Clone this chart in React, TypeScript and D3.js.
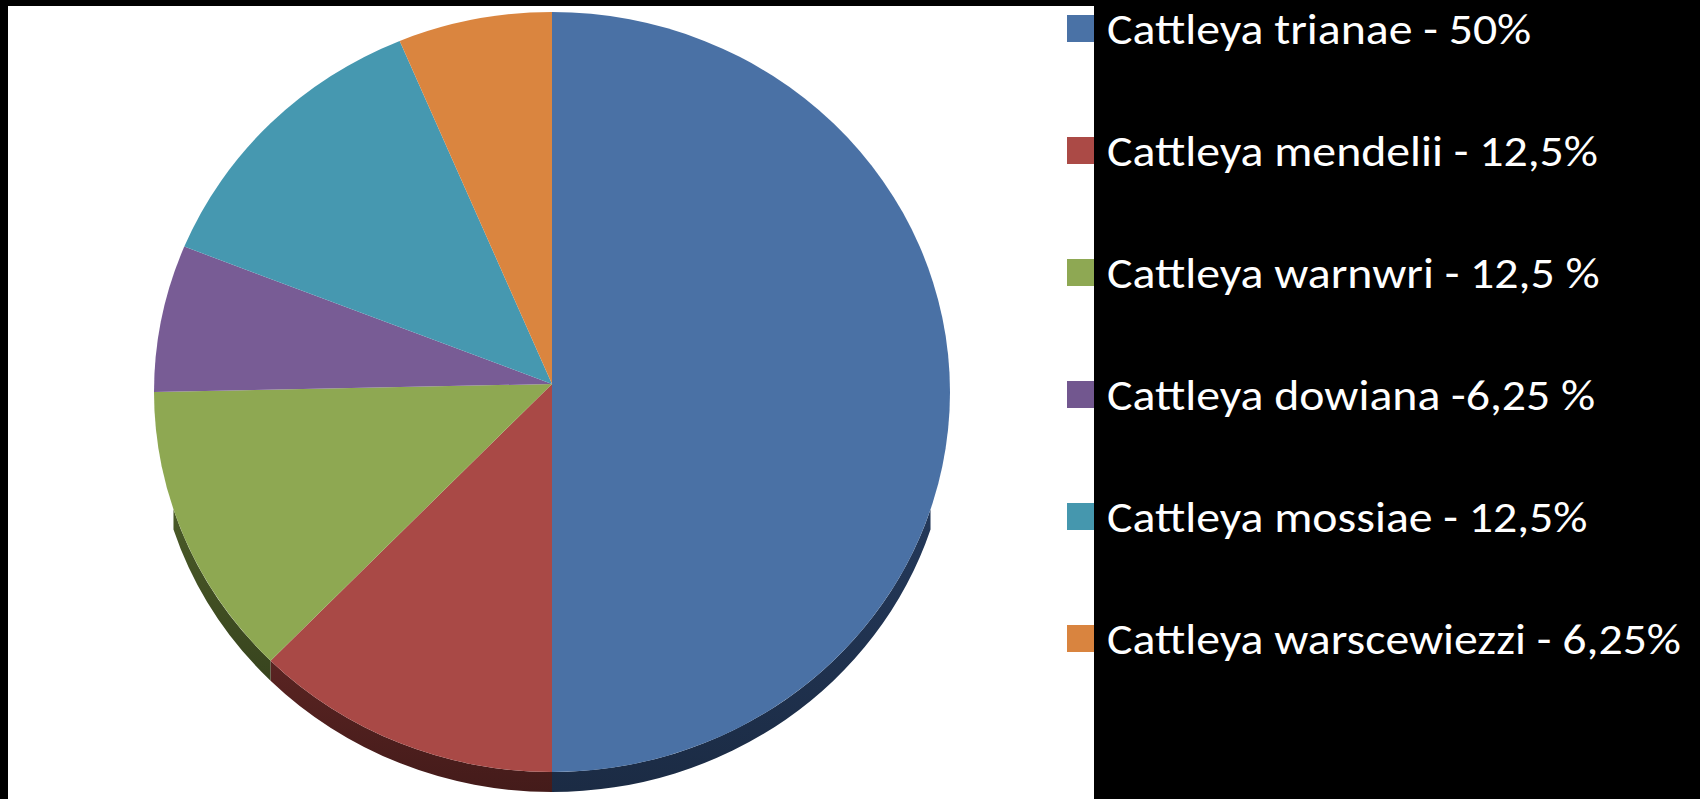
import React, { useEffect, useRef, useState } from "react";
import * as d3 from "d3";

const species = [
  "Cattleya trianae",
  "Cattleya mendelii",
  "Cattleya warnwri",
  "Cattleya dowiana",
  "Cattleya mossiae",
  "Cattleya warscewiezzi",
];
const values = [50, 12.5, 12.5, 6.25, 12.5, 6.25];
const legendLabels = [
  "Cattleya trianae - 50%",
  "Cattleya mendelii - 12,5%",
  "Cattleya warnwri - 12,5 %",
  "Cattleya dowiana -6,25 %",
  "Cattleya mossiae - 12,5%",
  "Cattleya warscewiezzi - 6,25%",
];
const faceColors = ["#4a71a5", "#a94946", "#8ea852", "#785c95", "#4698b0", "#da853f"];
const legendColors = ["#4a72a6", "#ab4a46", "#8ea853", "#72578f", "#4597ae", "#d9843f"];
const sideColors = ["#24395a", "#5a2422", "#4a5a28", "#3c2d4c", "#22505c", "#70421e"];

const W = 1700;
const H = 799;

export default function App() {
  const textRefs = useRef<(SVGTextElement | null)[]>([]);
  const [lens, setLens] = useState<number[] | null>(null);

  useEffect(() => {
    document.body.style.margin = "0";
    document.body.style.background = "#000";
    document.body.style.overflow = "hidden";
    const measured = textRefs.current.map((t) => (t ? t.getComputedTextLength() : 0));
    const longest = measured[5] || 1;
    const k = 574 / longest;
    setLens(measured.map((m) => m * k));
  }, []);

  const cx = 552;
  const cy = 392;
  const rx = 398;
  const ry = 380;
  const apex = { x: 552, y: 384 };
  const depth = 20;

  const pt = (a: number, dy = 0) => [cx + rx * Math.sin(a), cy - ry * Math.cos(a) + dy];

  const arcs = d3.pie<number>().sort(null).value((d) => d)(values);

  const facePath = (a0: number, a1: number) => {
    const p0 = pt(a0);
    const p1 = pt(a1);
    const large = a1 - a0 > Math.PI ? 1 : 0;
    return `M${apex.x},${apex.y}L${p0[0]},${p0[1]}A${rx},${ry} 0 ${large} 1 ${p1[0]},${p1[1]}Z`;
  };

  const sidePath = (a0: number, a1: number) => {
    const s = Math.max(a0, Math.PI * 0.6);
    const e = Math.min(a1, Math.PI * 1.4);
    if (e <= s) return null;
    const p0 = pt(s);
    const p1 = pt(e);
    const q1 = pt(e, depth);
    const q0 = pt(s, depth);
    return `M${p0[0]},${p0[1]}A${rx},${ry} 0 0 1 ${p1[0]},${p1[1]}L${q1[0]},${q1[1]}A${rx},${ry} 0 0 0 ${q0[0]},${q0[1]}Z`;
  };

  const legendY = d3.scalePoint<number>().domain(d3.range(species.length)).range([15, 625]);

  return (
    <svg
      width={W}
      height={H}
      style={{ position: "absolute", left: 0, top: 0, display: "block" }}
    >
      <defs>
        {sideColors.map((c, i) => (
          <linearGradient key={i} id={`side${i}`} x1="0" y1="0" x2="0" y2="1">
            <stop offset="0" stopColor={c} />
            <stop offset="1" stopColor={d3.color(c)!.darker(0.8).formatHex()} />
          </linearGradient>
        ))}
      </defs>
      <rect x={0} y={0} width={W} height={H} fill="#000" />
      <rect x={8} y={6} width={1086} height={H - 6} fill="#fff" />
      <g>
        {arcs.map((a, i) => {
          const d = sidePath(a.startAngle, a.endAngle);
          return d ? <path key={`s${i}`} d={d} fill={`url(#side${i})`} /> : null;
        })}
        {arcs.map((a, i) => (
          <path key={`f${i}`} d={facePath(a.startAngle, a.endAngle)} fill={faceColors[i]} />
        ))}
      </g>
      <g>
        {legendLabels.map((lab, i) => {
          const y = legendY(i)!;
          return (
            <g key={lab}>
              <rect x={1067} y={y} width={27} height={27} fill={legendColors[i]} />
              <text
                ref={(el) => {
                  textRefs.current[i] = el;
                }}
                x={1107}
                y={y + 29}
                fill="#fff"
                fontFamily="Carlito, Lato, 'Open Sans', sans-serif"
                fontSize={44}
                textLength={lens ? lens[i] : undefined}
                lengthAdjust={lens ? "spacingAndGlyphs" : undefined}
              >
                {lab}
              </text>
            </g>
          );
        })}
      </g>
    </svg>
  );
}
